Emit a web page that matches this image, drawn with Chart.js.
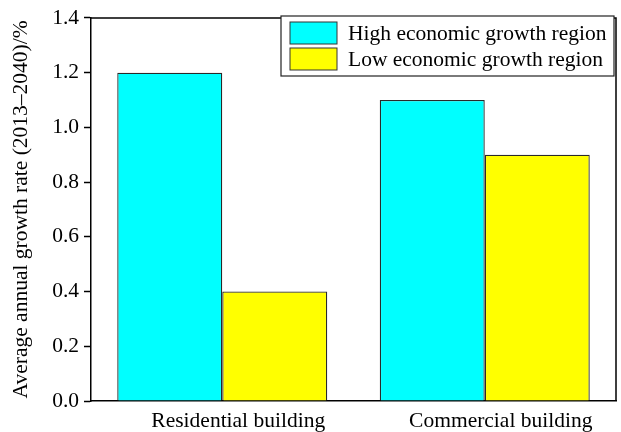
<!DOCTYPE html>
<html>
<head>
<meta charset="utf-8">
<script src="https://cdn.jsdelivr.net/npm/chart.js@4.4.0/dist/chart.umd.min.js"></script>
<style>
  html, body { margin: 0; padding: 0; background: #fff; }
  #wrap { width: 621px; height: 432px; }
</style>
</head>
<body>
<div id="wrap"><canvas id="growth-chart"></canvas></div>
<script>
const CATEGORIES = ['Residential building', 'Commercial building'];
const SERIES_NAMES = ['High economic growth region', 'Low economic growth region'];
const HIGH_GROWTH = [1.2, 1.1];
const LOW_GROWTH = [0.4, 0.9];
const Y_TICKS = [0, 0.2, 0.4, 0.6, 0.8, 1.0, 1.2, 1.4];

const FONT = '"Liberation Serif", "Times New Roman", serif';

// рамка вокруг области графика + легенда внутри
const framePlugin = {
    id: 'frame',
    afterDraw(chart) {
        const ctx = chart.ctx;
        const a = chart.chartArea;
        ctx.save();
        ctx.strokeStyle = '#000';
        ctx.lineWidth = 1.5;
        ctx.beginPath();
        ctx.moveTo(a.left, a.top);
        ctx.lineTo(a.right, a.top);
        ctx.lineTo(a.right, a.bottom);
        ctx.stroke();

        // legend box
        const boxX = 281, boxY = 16, boxW = a.right - 2 - 281, boxH = 60;
        ctx.lineWidth = 1.2;
        ctx.strokeStyle = '#222';
        ctx.fillStyle = '#fff';
        ctx.fillRect(boxX, boxY, boxW, boxH);
        ctx.strokeRect(boxX, boxY, boxW, boxH);

        ctx.font = '21.5px ' + FONT;
        ctx.textBaseline = 'middle';
        chart.data.datasets.forEach((ds, i) => {
            const sy = 22 + i * 26;
            ctx.fillStyle = ds.backgroundColor;
            ctx.fillRect(290, sy, 47, 22);
            ctx.strokeStyle = '#333';
            ctx.lineWidth = 1;
            ctx.strokeRect(290, sy, 47, 22);
            ctx.fillStyle = '#000';
            ctx.fillText(ds.label, 348, sy + 12);
        });
        ctx.restore();
    }
};

new Chart(document.getElementById('growth-chart'), {
    type: 'bar',
    data: {
        labels: CATEGORIES,
        datasets: [{
            label: SERIES_NAMES[0],
            data: HIGH_GROWTH,
            backgroundColor: '#00ffff',
            borderColor: '#2a2a2a',
            borderWidth: 1.3,
            categoryPercentage: 0.8,
            barPercentage: 1.0,
        }, {
            label: SERIES_NAMES[1],
            data: LOW_GROWTH,
            backgroundColor: '#ffff00',
            borderColor: '#2a2a2a',
            borderWidth: 1.3,
            categoryPercentage: 0.8,
            barPercentage: 1.0,
        }]
    },
    options: {
        responsive: true,
        maintainAspectRatio: false,
        animation: false,
        layout: { padding: { left: 0, top: 16, right: 5, bottom: 0 } },
        plugins: {
            legend: { display: false },
            tooltip: { enabled: false },
        },
        scales: {
            x: {
                grid: { display: false, drawTicks: false },
                border: { color: '#000', width: 1.5 },
                ticks: { color: '#000', font: { family: FONT, size: 21.5 }, padding: 7, labelOffset: 16 },
                afterFit(scale) { scale.height = 31; },
            },
            y: {
                min: 0,
                max: 1.4,
                afterBuildTicks(scale) { scale.ticks = Y_TICKS.map(v => ({ value: v })); },
                grid: { drawOnChartArea: false, drawTicks: true, tickLength: 7, color: '#000', tickWidth: 1.5 },
                border: { color: '#000', width: 1.5 },
                ticks: {
                    color: '#000',
                    font: { family: FONT, size: 21.5 },
                    padding: 5,
                    callback: (v) => Number(v).toFixed(1),
                },
                title: {
                    display: true,
                    text: 'Average annual growth rate (2013\u20132040)/%',
                    color: '#000',
                    font: { family: FONT, size: 21.5 },
                    padding: { top: 8, bottom: 0 },
                },
                afterFit(scale) { scale.width = 91; },
            }
        }
    },
    plugins: [framePlugin]
});
</script>
</body>
</html>
